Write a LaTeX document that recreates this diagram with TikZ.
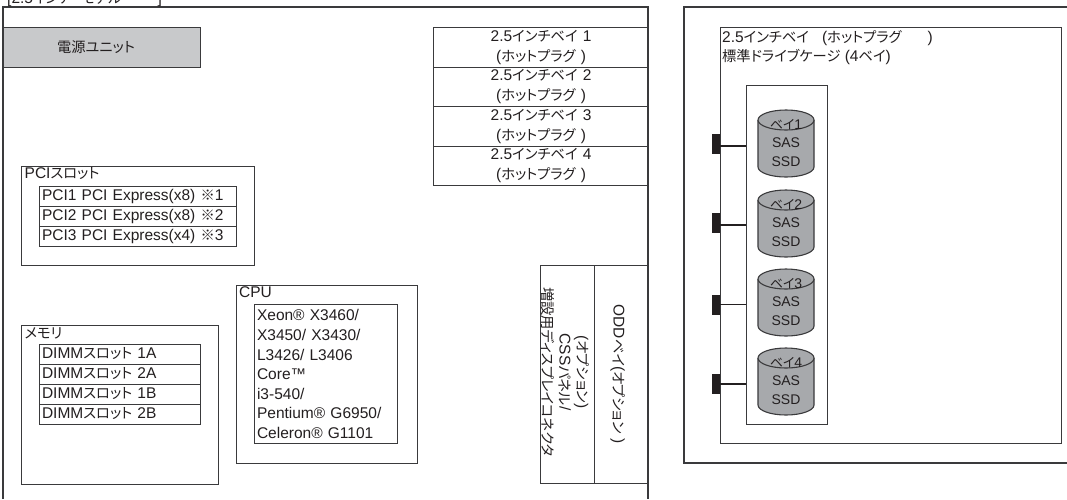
\documentclass[tikz,border=0pt]{standalone}
\usepackage{fontspec}
\setmainfont{Liberation Sans}
\newfontfamily\cjk[RawFeature=+palt,Scale=0.92]{Noto Sans CJK JP}
\newcommand{\J}[1]{{\cjk #1}}
\definecolor{ln}{HTML}{3A3A3C}
\definecolor{tx}{HTML}{231F20}
\definecolor{psu}{HTML}{C8C9CB}
\definecolor{drv}{HTML}{A7A9AC}
\tikzset{
  x=1pt,y=-1pt,
  txt/.style={text=tx,font=\fontsize{15.5}{19.6}\selectfont,inner sep=0pt},
  smalltxt/.style={text=tx,font=\fontsize{14}{19}\selectfont,inner sep=0pt},
  frameline/.style={draw=ln,line width=1.1pt},
  boxr/.style={frameline,anchor=north west,inner sep=0pt,txt},
  rowbox/.style={boxr,minimum width=#1,text width=#1-5pt,minimum height=20pt,align=left,text height=11pt,text depth=3pt},
  baybox/.style={boxr,minimum width=215pt,minimum height=39.5pt,align=center,text width=215pt},
  portblock/.style={fill=tx,draw=none,anchor=north west,minimum width=8pt,minimum height=20pt,inner sep=0pt},
  wire/.style={draw=tx,line width=1.6pt},
}
\newcommand{\drive}[4]{% name, top y, label, wire offset
  \path[draw=ln,line width=1.1pt,fill=drv] (758,#2+10) -- (758,#2+57) arc[start angle=180,end angle=0,x radius=28,y radius=10] -- (814,#2+10);
  \path[draw=ln,line width=1.1pt,fill=drv] (814,#2+10) arc[start angle=0,end angle=360,x radius=28,y radius=10] -- cycle;
  \node[smalltxt] (#1t) at (786,#2+15) {#3};
  \node[smalltxt,align=center] (#1) at (786,#2+42.5) {SAS\\SSD};
  \coordinate (#1c) at (746,#2+#4);
}
\begin{document}
\begin{tikzpicture}
\useasboundingbox (0,0) rectangle (1067,499);
\fill[white] (0,0) rectangle (1067,499);
% left chassis
\coordinate (la) at (3,499);
\coordinate (lb) at (3,7);
\coordinate (lc) at (648,7);
\coordinate (ld) at (648,499);
\draw[frameline] (la) -- (lb) -- (lc) -- (ld);
\node[txt,anchor=base west] (title) at (7,3) {[2.5\J{インチ}\hspace{10pt}\J{モデル}\hspace{36pt}]};
% PSU
\node[boxr,fill=psu,minimum width=197pt,minimum height=39.5pt,align=center] (psu) at (3,27) {\J{電源ユニット}\hspace{12pt}};
% PCI
\node[boxr,minimum width=233pt,minimum height=99pt] (pcibox) at (21,166) {};
\node[txt,anchor=west] (pcit) at (24.5,173.5) {PCI\J{スロット}};
\node[rowbox=197pt] (p1) at (39,186) {PCI1 PCI Express(x8) \J{※}1};
\node[rowbox=197pt] (p2) at (39,206) {PCI2 PCI Express(x8) \J{※}2};
\node[rowbox=197pt] (p3) at (39,225.5) {PCI3 PCI Express(x4) \J{※}3};
% memory
\node[boxr,minimum width=197pt,minimum height=159pt] (membox) at (21,324.5) {};
\node[txt,anchor=west] (memt) at (24.5,333.5) {\J{メモリ}};
\node[rowbox=161pt] (m1) at (39,344) {DIMM\J{スロット} 1A};
\node[rowbox=161pt] (m2) at (39,364) {DIMM\J{スロット} 2A};
\node[rowbox=161pt] (m3) at (39,384) {DIMM\J{スロット} 1B};
\node[rowbox=161pt] (m4) at (39,404) {DIMM\J{スロット} 2B};
% CPU
\node[boxr,minimum width=181pt,minimum height=178pt] (cpubox) at (236,285) {};
\node[txt,anchor=west] (cput) at (239,292) {CPU};
\node[boxr,minimum width=143pt,text width=138pt,minimum height=139pt,align=left] (cpu) at (254,304) {Xeon® X3460/\\X3450/ X3430/\\L3426/ L3406\\Core™\\i3-540/\\Pentium® G6950/\\Celeron® G1101};
% bays
\node[baybox] (b1) at (433,27) {2.5\J{インチベイ} 1\\(\J{ホットプラグ} )};
\node[baybox] (b2) at (433,66.5) {2.5\J{インチベイ} 2\\(\J{ホットプラグ} )};
\node[baybox] (b3) at (433,106) {2.5\J{インチベイ} 3\\(\J{ホットプラグ} )};
\node[baybox] (b4) at (433,145.5) {2.5\J{インチベイ} 4\\(\J{ホットプラグ} )};
% ODD / CSS
\node[boxr,minimum width=54pt,minimum height=218pt] (css) at (540,265) {};
\node[boxr,minimum width=54pt,minimum height=218pt] (odd) at (594,265) {};
\node[txt,font=\fontsize{15.5}{17.5}\selectfont,rotate=-90,align=center] (csst) at (565,372) {(\J{オプション})\\CSS\J{パネル}/\\\J{増設用ディスプレイコネクタ}};
\node[txt,rotate=-90] (oddt) at (618,374) {ODD\J{ベイ}(\J{オプション} )};
% right chassis
\coordinate (ra) at (1067,7);
\coordinate (rb) at (684,7);
\coordinate (rc) at (684,463);
\coordinate (rd) at (1067,463);
\draw[frameline] (ra) -- (rb) -- (rc) -- (rd);
\node[boxr,minimum width=341pt,minimum height=416pt] (cage) at (720,27) {};
\node[txt,anchor=west,align=left] (caget) at (722,47.5) {2.5\J{インチベイ}\hspace{13pt}(\J{ホットプラグ}\hspace{26pt})\\\J{標準ドライブケージ} (4\J{ベイ})};
\node[boxr,minimum width=81pt,minimum height=339pt] (bays) at (746,84.5) {};
\drive{d1}{110}{\J{ベイ}1}{36}
\drive{d2}{190}{\J{ベイ}2}{35}
\drive{d3}{269}{\J{ベイ}3}{35.5}
\drive{d4}{348}{\J{ベイ}4}{36}
\node[portblock] (c1) at (712,134) {};
\node[portblock] (c2) at (712,213) {};
\node[portblock] (c3) at (712,294.5) {};
\node[portblock] (c4) at (712,374) {};
\draw[wire] (c1.east |- d1c) -- (d1c);
\draw[wire] (c2.east |- d2c) -- (d2c);
\draw[wire] (c3.east |- d3c) -- (d3c);
\draw[wire] (c4.east |- d4c) -- (d4c);
\end{tikzpicture}
\end{document}
